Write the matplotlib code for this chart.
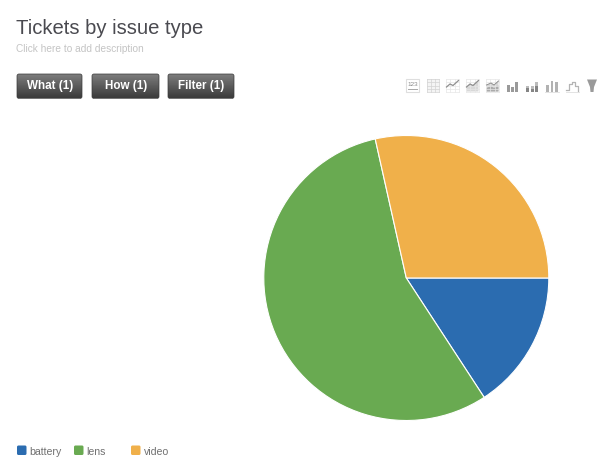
import numpy as np
import matplotlib
matplotlib.use("Agg")
import matplotlib.pyplot as plt
from matplotlib.patches import FancyBboxPatch, Rectangle, Polygon

plt.rcParams['font.family'] = ['Liberation Sans', 'DejaVu Sans']

categories = ['battery', 'lens', 'video']
values = [15.8, 55.7, 28.5]
colors = ['#2b6cb0', '#69aa51', '#f0b04a']
title = 'Tickets by issue type'
description = 'Click here to add description'
buttons = ['What (1)', 'How (1)', 'Filter (1)']

W, H = 600, 472
fig = plt.figure(figsize=(W / 100, H / 100), dpi=100, facecolor='white')

# page overlay in pixel coordinates (y down)
bg = fig.add_axes([0, 0, 1, 1])
bg.set_xlim(0, W)
bg.set_ylim(H, 0)
bg.axis('off')

bg.text(16.5, 28, title, fontsize=14.6, color='#4a4a50', va='center', ha='left')
bg.text(16.5, 48.5, description, fontsize=7.3, color='#c4c4c4', va='center', ha='left')

# buttons with vertical gradient
grad = np.linspace(0.50, 0.23, 64).reshape(-1, 1)
for (x0, x1), label in zip([(17, 82), (92, 159), (168, 234)], buttons):
    y0, y1 = 74, 98.5
    im = bg.imshow(grad, extent=(x0, x1, y1, y0), cmap='gray', vmin=0, vmax=1,
                   aspect='auto', zorder=2, origin='upper')
    box = FancyBboxPatch((x0 + 2, y0 + 2), x1 - x0 - 4, y1 - y0 - 4,
                         boxstyle='round,pad=2', fc='none', ec='#3a3a3a', lw=0.5, zorder=3)
    bg.add_patch(box)
    im.set_clip_path(box)
    bg.text((x0 + x1) / 2 + 0.5, y0 + 11.5, label, fontsize=8.4, fontweight='bold', color='white',
            va='center', ha='center', zorder=4)
bg.set_xlim(0, W)
bg.set_ylim(H, 0)

# toolbar icons
G = '#a8a8a8'
L = '#dedede'
LINE = '#8f8f8f'
def box_icon(x, y=85.5, s=13):
    bg.add_patch(Rectangle((x - s / 2, y - s / 2), s, s, fc='white', ec=L, lw=0.8))
def grid(x, y=85.5, s=12.5, fc=None, color=L):
    bg.add_patch(Rectangle((x - s / 2, y - s / 2), s, s, fc='#f4f4f4' if fc else 'white', ec='none'))
    for t in np.linspace(-s / 2, s / 2, 4):
        bg.plot([x + t, x + t], [y - s / 2, y + s / 2], color=color, lw=0.5)
    for t in np.linspace(-s / 2, s / 2, 5):
        bg.plot([x - s / 2, x + s / 2], [y + t, y + t], color=color, lw=0.5)

# number
box_icon(412.5)
bg.text(412.5, 84.5, '123', fontsize=4.6, color='#8a8a8a', ha='center', va='center')
bg.plot([408, 417], [89, 89], color=G, lw=0.7)
# table
grid(433, fc=True, color='#d2d2d2')
# line
grid(452.5, color='#e6e6e6')
bg.plot([446.5, 450, 453, 458.5], [87, 84, 85.5, 80.5], color=LINE, lw=0.9)
# area
grid(472.5, color='#e6e6e6')
bg.add_patch(Polygon([(466.5, 91.5), (466.5, 87), (470, 84), (473, 85.5), (478.5, 80.5), (478.5, 91.5)], fc='#d8d8d8', ec='none'))
bg.plot([466.5, 470, 473, 478.5], [87, 84, 85.5, 80.5], color=LINE, lw=0.9)
# stacked area
grid(492.5, color='#e6e6e6')
bg.add_patch(Polygon([(486.5, 91.5), (486.5, 85), (491, 83), (494, 85), (498.5, 81), (498.5, 91.5)], fc='#d6d6d6', ec='none'))
bg.add_patch(Polygon([(486.5, 91.5), (486.5, 88), (491, 86), (494, 88), (498.5, 85.5), (498.5, 91.5)], fc='#ababab', ec='none'))
bg.plot([486.5, 491, 494, 498.5], [85, 83, 85, 81], color=LINE, lw=0.7)
# bars
for dx, top in [(506.5, 84.5), (511, 86.5), (515, 81.5)]:
    bg.add_patch(Rectangle((dx, top), 3.4, 92 - top, fc='#9a9a9a', ec='none'))
# stacked bars
for dx, top, mid in [(526, 85.5, 88), (530.5, 86, 88.5), (535, 81.5, 86)]:
    bg.add_patch(Rectangle((dx, top), 3.4, 92 - top, fc='#858585', ec='none'))
    bg.add_patch(Rectangle((dx, top), 3.4, mid - top, fc='#bcbcbc', ec='none'))
# range bars
for dx, top, w in [(546, 85, 2.6), (550.5, 80.5, 2.6), (555, 81.5, 2.6)]:
    bg.add_patch(Rectangle((dx, top), w, 91.5 - top, fc='#b2b2b2', ec='none'))
bg.plot([545, 559], [91.8, 91.8], color=L, lw=0.6)
# waterfall
bg.plot([566, 569, 569, 572, 572, 575, 575, 578, 578], [89.5, 89.5, 84, 84, 81.5, 81.5, 85.5, 85.5, 91],
        color='#b4b4b4', lw=0.9)
bg.plot([565.5, 578.5], [91.8, 91.8], color=L, lw=0.6)
# funnel
bg.add_patch(Polygon([(587, 79.5), (597, 79.5), (594, 87), (593.5, 92), (590.5, 92), (590, 87)],
                     fc='#9a9a9a', ec='none'))

# legend
for x, c, tx, name in zip([17, 74, 131], colors, [29.5, 86.5, 143.5], categories):
    bg.add_patch(FancyBboxPatch((x + 1.5, 447), 6.5, 6.5, boxstyle='round,pad=1.5', fc=c, ec='none'))
    bg.text(tx, 452, name, fontsize=7.6, color='#707070', va='center', ha='left')

# pie
cx, cy, r = 406.3, 278, 142.5
ax = fig.add_axes([(cx - r) / W, (H - cy - r) / H, 2 * r / W, 2 * r / H])
ax.pie(values, colors=colors, startangle=0, counterclock=False, radius=1,
       wedgeprops={'edgecolor': 'white', 'linewidth': 0.8})
ax.set_xlim(-1, 1)
ax.set_ylim(-1, 1)
ax.patch.set_alpha(0)

fig.savefig('out.png', dpi=100)
